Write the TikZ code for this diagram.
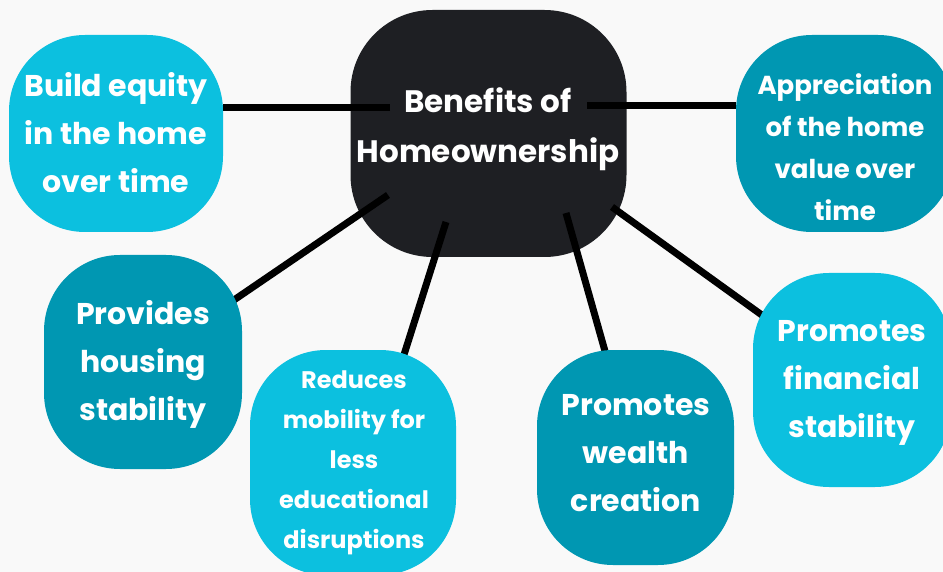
\documentclass[tikz,border=0pt]{standalone}
\usepackage{fontspec}
\setmainfont{Poppins}
\usetikzlibrary{calc}
\definecolor{bgc}{HTML}{F9F9F9}
\definecolor{lightc}{HTML}{0CC0DF}
\definecolor{tealc}{HTML}{0097B2}
\definecolor{darkc}{HTML}{1E1F23}
\pgfdeclarelayer{back}
\pgfdeclarelayer{mid}
\pgfsetlayers{back,mid,main}
\begin{document}
\begin{tikzpicture}[x=1pt,y=-1pt,
  box/.style={rounded corners=76pt, inner sep=0pt},
  lbox/.style={box, fill=lightc},
  tbox/.style={box, fill=tealc},
  txt/.style={text=white, align=center, inner sep=0pt},
  big/.style={font=\bfseries\fontsize{30}{48}\selectfont},
  link/.style={line width=7pt, draw=black}]
\useasboundingbox (0,0) rectangle (943,572);
\begin{pgfonlayer}{back}
\fill[bgc] (0,0) rectangle (943,572);
\node[box, fill=darkc, minimum width=276pt, minimum height=247pt, rounded corners=82pt] (c) at (488.5,133.5) {};
\end{pgfonlayer}
\node[lbox, minimum width=214pt, minimum height=197pt] (e) at (116,133.5) {};
\node[tbox, minimum width=218pt, minimum height=197pt] (a) at (845,133.5) {};
\node[tbox, minimum width=198pt, minimum height=214pt] (p) at (143,362) {};
\node[lbox, minimum width=206pt, minimum height=225pt] (r) at (353,462.5) {};
\node[tbox, minimum width=197pt, minimum height=215pt] (w) at (635.5,457.5) {};
\node[lbox, minimum width=198pt, minimum height=214pt] (f) at (852,380) {};

\node[txt, font=\bfseries\fontsize{31}{50}\selectfont] (ct) at (488,129) {Benefits of\\Homeownership};
\node[txt, big] (et) at (116,133) {Build equity\\in the home\\over time};
\node[txt, font=\bfseries\fontsize{26}{42}\selectfont] (at) at (845,147) {Appreciation\\of the home\\value over\\time};
\node[txt, big] (pt) at (143,364) {Provides\\housing\\stability};
\node[txt, font=\bfseries\fontsize{24}{40}\selectfont] (rt) at (354,463) {Reduces\\mobility for\\less\\educational\\disruptions};
\node[txt, big] (wt) at (636,453) {Promotes\\wealth\\creation};
\node[txt, big] (ft) at (852,383) {Promotes\\financial\\stability};

\coordinate (c1) at (390,108);
\coordinate (c2) at (587,106);
\coordinate (c3) at (388,195);
\coordinate (c4) at (446,222);
\coordinate (c5) at (566,213);
\coordinate (c6) at (612,207);
\begin{pgfonlayer}{mid}
\draw[link] (c1) -- (e.east |- c1);
\draw[link] (c2) -- (a.west |- c2);
\draw[link] (c3) -- (p.center);
\draw[link, shorten >=-12pt] (c4) -- (r.65);
\draw[link, shorten >=-12pt] (c5) -- (w.106);
\draw[link] (c6) -- (f.center);
\end{pgfonlayer}
\end{tikzpicture}
\end{document}
